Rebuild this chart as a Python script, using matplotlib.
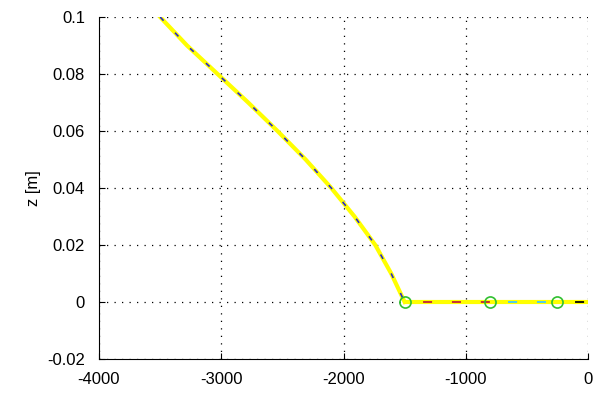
import matplotlib.pyplot as plt

# bent profile (x, z)
curve_x = [-3500, -3280, -3030, -2780, -2540, -2310, -2100, -1910, -1740, -1610, -1500]
curve_z = [0.1, 0.09, 0.08, 0.07, 0.06, 0.05, 0.04, 0.03, 0.02, 0.01, 0.0]

# flat segments along z = 0
seg_x = [[-1500, -800], [-800, -250], [-250, 0]]
seg_z = [[0, 0], [0, 0], [0, 0]]
seg_colors = ["#c0203a", "#40c8ff", "black"]

node_x = [-1500, -800, -250]
node_z = [0, 0, 0]

plt.rcParams["font.family"] = ["Liberation Sans", "DejaVu Sans"]
plt.rcParams["font.size"] = 12
plt.rcParams["axes.unicode_minus"] = False

fig = plt.figure(figsize=(5.95, 3.94), dpi=100)
ax = fig.add_axes([99 / 595, 35 / 394, 489 / 595, 342 / 394])

ax.plot(curve_x, curve_z, color="yellow", lw=3, solid_joinstyle="round")
ax.plot(curve_x, curve_z, color="#2a2ac8", lw=1.2, ls=(0, (3, 10)))
for sx, sz, c in zip(seg_x, seg_z, seg_colors):
    ax.plot(sx, sz, color="yellow", lw=3, solid_capstyle="butt")
    ax.plot(sx, sz, color=c, lw=1.3, ls=(6, (5, 11)))
ax.plot(node_x, node_z, "o", mfc="none", mec="#30c030", ms=8, mew=1.2)

ax.set_xlim(-4000, 0)
ax.set_ylim(-0.02, 0.1)
ax.set_xticks([-4000, -3000, -2000, -1000, 0])
ax.set_yticks([-0.02, 0, 0.02, 0.04, 0.06, 0.08, 0.1])
ax.set_yticklabels(["-0.02", "0", "0.02", "0.04", "0.06", "0.08", "0.1"])
ax.grid(True, color="black", ls=(0, (1, 5)), lw=0.9)
ax.spines["top"].set_visible(False)
ax.spines["right"].set_visible(False)
ax.tick_params(direction="in", length=4)
ax.tick_params(axis="x", pad=9)
ax.tick_params(axis="y", pad=10)
ax.set_ylabel("z [m]")
ax.yaxis.set_label_coords(-0.118, 0.5)

plt.savefig("out.png", dpi=100)
